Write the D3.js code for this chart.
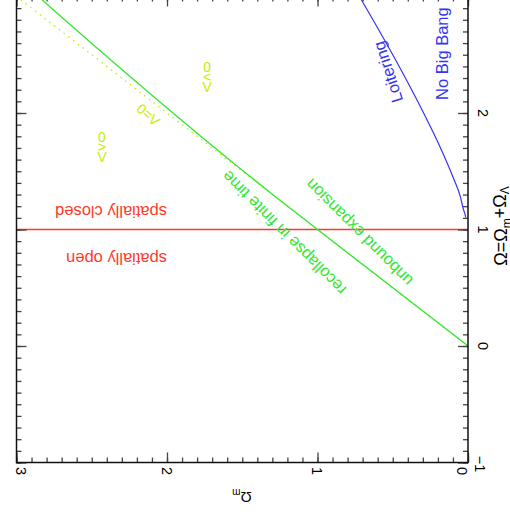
<!DOCTYPE html>
<html>
<head>
<meta charset="utf-8">
<script src="https://cdn.jsdelivr.net/npm/d3@7"></script>
<style>
  body { margin: 0; background: #fff; }
  svg { display: block; }
  text { font-family: "Liberation Sans", Arial, Helvetica, sans-serif; }
</style>
</head>
<body>
<svg id="chart"></svg>
<script>
// tick values
const omegaMTicks = [0, 1, 2, 3];
const omegaTicks = [-1, 0, 1, 2, 3];

// Omega_m + Omega_Lambda = 1 (flat universe)
const flatM = [0, 3];
const flatOmega = [1, 1];

// Lambda = 0 (dotted)
const lambdaZeroM = [0, 3];
const lambdaZeroOmega = [0, 3];

// recollapse / unbound expansion boundary
const recollapseM = [0, 1, 1.25, 1.5, 1.75, 2, 2.25, 2.5, 2.75, 3];
const recollapseOmega = [0, 1, 1.252, 1.509, 1.772, 2.042, 2.317, 2.596, 2.88, 3.167];

// loitering / no big bang boundary
const noBigBangM = [0.015, 0.02, 0.03, 0.05, 0.1, 0.2, 0.3, 0.4, 0.5, 0.6, 0.7, 0.75];
const noBigBangOmega = [1.103, 1.132, 1.17, 1.278, 1.45, 1.748, 2.013, 2.262, 2.5, 2.73, 2.953, 3.063];

const width = 510;
const height = 520;
const plot = { left: 16.5, right: 468, top: -3.5, bottom: 462.5 };

const RED = "#ff3a2a";
const GREEN = "#2fe82f";
const BLUE = "#3434f4";
const LIME = "#c4ee00";

const svg = d3.select("#chart")
    .attr("width", width)
    .attr("height", height);

// Omega_m runs right -> left, Omega runs bottom -> top
const x = d3.scaleLinear().domain([0, 3]).range([plot.right, plot.left]);
const y = d3.scaleLinear().domain([-1, 3]).range([plot.bottom, plot.top]);

svg.append("clipPath")
    .attr("id", "plot-area")
    .append("rect")
    .attr("x", plot.left)
    .attr("y", plot.top)
    .attr("width", plot.right - plot.left)
    .attr("height", plot.bottom - plot.top);

const lines = svg.append("g").attr("clip-path", "url(#plot-area)");

const toPoints = (ms, os) => ms.map((m, i) => [m, os[i]]);
const line = d3.line().x(d => x(d[0])).y(d => y(d[1]));
const curve = d3.line().x(d => x(d[0])).y(d => y(d[1])).curve(d3.curveMonotoneX);

lines.append("path")
    .attr("d", line(toPoints(flatM, flatOmega)))
    .attr("fill", "none")
    .attr("stroke", RED)
    .attr("stroke-width", 1.3);

lines.append("path")
    .attr("d", line(toPoints(lambdaZeroM, lambdaZeroOmega)))
    .attr("fill", "none")
    .attr("stroke", LIME)
    .attr("stroke-width", 1.3)
    .attr("stroke-dasharray", "1.5,4.5");

lines.append("path")
    .attr("d", curve(toPoints(recollapseM, recollapseOmega)))
    .attr("fill", "none")
    .attr("stroke", GREEN)
    .attr("stroke-width", 1.3);

lines.append("path")
    .attr("d", curve(toPoints(noBigBangM, noBigBangOmega)))
    .attr("fill", "none")
    .attr("stroke", BLUE)
    .attr("stroke-width", 1.2);

// ticks on all four sides, pointing inwards
function ticks(axisFn, scale, transform, values, size) {
    svg.append("g")
        .attr("transform", transform)
        .call(axisFn(scale).tickValues(values).tickSize(-size).tickFormat(""))
        .call(g => g.select(".domain").remove())
        .selectAll("line")
        .attr("stroke", "#444")
        .attr("stroke-width", 1.3);
}
const minorM = x.ticks(30);
const minorO = y.ticks(40);
ticks(d3.axisBottom, x, `translate(0,${plot.bottom})`, minorM, 5);
ticks(d3.axisTop, x, `translate(0,${plot.top})`, minorM, 5);
ticks(d3.axisLeft, y, `translate(${plot.left},0)`, minorO, 5);
ticks(d3.axisRight, y, `translate(${plot.right},0)`, minorO, 5);
ticks(d3.axisBottom, x, `translate(0,${plot.bottom})`, omegaMTicks, 10);
ticks(d3.axisTop, x, `translate(0,${plot.top})`, omegaMTicks, 10);
ticks(d3.axisLeft, y, `translate(${plot.left},0)`, omegaTicks, 10);
ticks(d3.axisRight, y, `translate(${plot.right},0)`, omegaTicks, 10);

svg.append("rect")
    .attr("x", plot.left)
    .attr("y", plot.top)
    .attr("width", plot.right - plot.left)
    .attr("height", plot.bottom - plot.top)
    .attr("fill", "none")
    .attr("stroke", "#111")
    .attr("stroke-width", 1.5);

// tick labels (turned a quarter clockwise)
const fmt = d => d < 0 ? "\u2212" + Math.abs(d) : String(d);
const endShift = d => d === 3 ? 5 : d === 0 ? -6 : 0;

svg.selectAll(".xlabel")
    .data(omegaMTicks)
    .enter()
    .append("text")
    .attr("class", "xlabel")
    .attr("transform", d => `translate(${x(d) + endShift(d)},471) rotate(90)`)
    .attr("text-anchor", "middle")
    .attr("dy", "0.35em")
    .style("font-size", "14.5px")
    .text(fmt);

svg.selectAll(".ylabel")
    .data(omegaTicks)
    .enter()
    .append("text")
    .attr("class", "ylabel")
    .attr("transform", d => `translate(${d === -1 ? 480 : 483},${y(d) + (d === -1 ? 1.5 : 0)}) rotate(90)`)
    .attr("text-anchor", "middle")
    .attr("dy", "0.35em")
    .style("font-size", "14.5px")
    .text(fmt);

// axis titles
const xTitle = svg.append("text")
    .attr("transform", "translate(242,497) rotate(180)")
    .attr("text-anchor", "middle")
    .attr("dy", "0.35em")
    .style("font-size", "15px");
xTitle.append("tspan").text("\u03a9");
xTitle.append("tspan").attr("dy", "0.3em").style("font-size", "10px").text("m");

const yTitle = svg.append("text")
    .attr("transform", "translate(501,226) rotate(-90)")
    .attr("text-anchor", "middle")
    .attr("dy", "0.35em")
    .style("font-size", "18px");
yTitle.append("tspan").text("\u03a9=\u03a9");
yTitle.append("tspan").attr("dy", "0.3em").style("font-size", "12px").text("m");
yTitle.append("tspan").attr("dy", "-0.3em").text("+\u03a9");
yTitle.append("tspan").attr("dy", "0.3em").style("font-size", "12px").text("\u039b");

// annotations, placed in data coordinates
const annotations = [
    { text: "spatially closed", m: 2.0, o: 1.202, angle: 180, color: RED, anchor: "start", dy: "0em" },
    { text: "spatially open", m: 2.0, o: 0.794, angle: 180, color: RED, anchor: "start", dy: "0em" },
    { text: "No Big Bang", m: 0.133, o: 2.112, angle: -90, color: BLUE, anchor: "start", dy: "0em" },
    { text: "Loitering", m: 0.532, o: 2.352, angle: -108, color: BLUE, anchor: "middle", dy: "0.35em" },
    { text: "unbound expansion", m: 0.724, o: 0.974, angle: -135, color: GREEN, anchor: "middle", dy: "0.35em" },
    { text: "recollapse in finite time", m: 1.223, o: 0.97, angle: -135, color: GREEN, anchor: "middle", dy: "0.35em" },
    { text: "\u039b=0", m: 2.126, o: 1.983, angle: -138, color: LIME, anchor: "middle", dy: "0.35em", size: 14 }
];

svg.selectAll(".note")
    .data(annotations)
    .enter()
    .append("text")
    .attr("class", "note")
    .attr("transform", d => `translate(${x(d.m)},${y(d.o)}) rotate(${d.angle})`)
    .attr("text-anchor", d => d.anchor)
    .attr("dy", d => d.dy)
    .attr("fill", d => d.color)
    .style("font-size", d => (d.size || 16.5) + "px")
    .text(d => d.text);

// stacked, upside-down glyph labels
const stacked = [
    { text: "\u039b>0", m: 1.734, o: 2.309 },
    { text: "\u039b<0", m: 2.432, o: 1.708 }
];
stacked.forEach(s => {
    const chars = s.text.split("");
    chars.forEach((c, i) => {
        const off = (1 - i) * 10; // first glyph at the bottom
        svg.append("text")
            .attr("transform", `translate(${x(s.m)},${y(s.o) + off}) rotate(180)`)
            .attr("text-anchor", "middle")
            .attr("dy", "0.35em")
            .attr("fill", LIME)
            .style("font-size", "14px")
            .text(c);
    });
});
</script>
</body>
</html>
